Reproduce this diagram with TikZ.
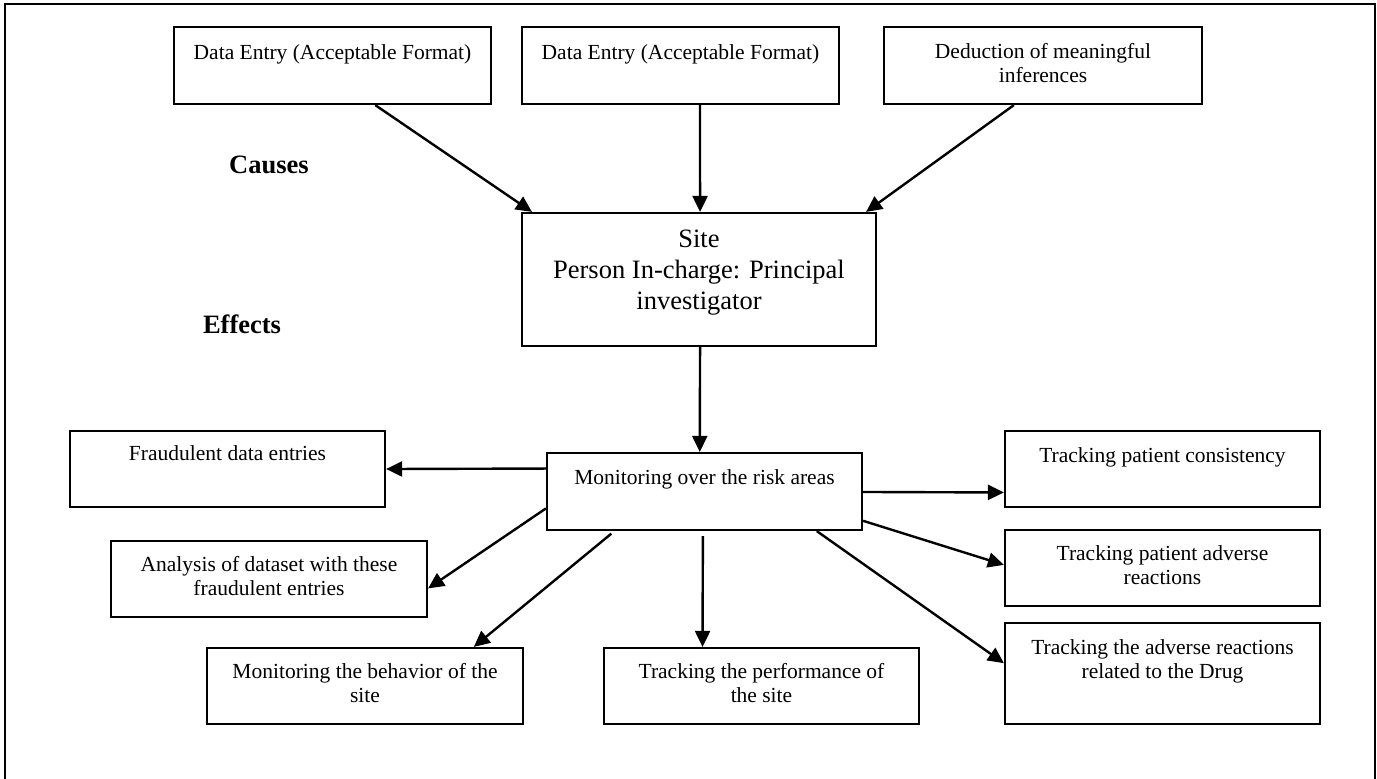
\documentclass[tikz,border=0pt]{standalone}
\usepackage{fontspec}
\setmainfont{Liberation Serif}
\usetikzlibrary{arrows.meta,calc,fit}
\begin{document}
\begin{tikzpicture}[x=0.5pt,y=-0.5pt,
  box/.style={draw,line width=1.1pt,inner sep=0pt},
  txt/.style={inner sep=0pt,align=center,anchor=base,font=\fontsize{10.75}{12}\selectfont},
  bigtxt/.style={inner sep=0pt,align=center,anchor=base,font=\fontsize{13.25}{15.5}\selectfont},
  head/.style={inner sep=0pt,anchor=base,font=\fontsize{13.25}{15.5}\selectfont\bfseries},
  arr/.style={line width=1.2pt,-{Triangle[length=8pt,width=7.5pt]}}]
\useasboundingbox (0,0) rectangle (1377,778);
\draw[line width=1.2pt] (5,790) -- (5,4) -- (1375,4) -- (1375,790);

% boxes
\node[box,fit={(174,27) (491,104)}] (A1) {};
\node[box,fit={(522,27) (839,104)}] (A2) {};
\node[box,fit={(884,27) (1202,104)}] (A3) {};
\node[box,fit={(522,213) (876,346)}] (Site) {};
\node[box,fit={(547,453) (862,530)}] (Mon) {};
\node[box,fit={(70,431) (385,507)}] (Fraud) {};
\node[box,fit={(111,541) (427,617)}] (Anal) {};
\node[box,fit={(207,648) (523,724)}] (Behav) {};
\node[box,fit={(604,648) (919,724)}] (Perf) {};
\node[box,fit={(1005,431) (1320,507)}] (Cons) {};
\node[box,fit={(1005,530) (1320,606)}] (Adv) {};
\node[box,fit={(1005,623) (1320,724)}] (Drug) {};

% texts (anchor = baseline of the last line)
\node[txt] (A1t) at ($(A1.north)+(0,34)$) {Data Entry (Acceptable Format)};
\node[txt] (A2t) at ($(A2.north)+(0,34)$) {Data Entry (Acceptable Format)};
\node[txt] (A3t) at ($(A3.north)+(0,57)$) {Deduction of meaningful\\inferences};
\node[bigtxt] (Sitet) at ($(Site.north)+(0,98)$) {Site\\Person In-charge: Principal\\investigator};
\node[txt] (Mont) at ($(Mon.north)+(0,33)$) {Monitoring over the risk areas};
\node[txt] (Fraudt) at ($(Fraud.north)+(0,31)$) {Fraudulent data entries};
\node[txt] (Analt) at ($(Anal.north)+(0,56)$) {Analysis of dataset with these\\fraudulent entries};
\node[txt] (Behavt) at ($(Behav.north)+(0,56)$) {Monitoring the behavior of the\\site};
\node[txt] (Perft) at ($(Perf.north)+(0,56)$) {Tracking the performance of\\the site};
\node[txt] (Const) at ($(Cons.north)+(0,33)$) {Tracking patient consistency};
\node[txt] (Advt) at ($(Adv.north)+(0,56)$) {Tracking patient adverse\\reactions};
\node[txt] (Drugt) at ($(Drug.north)+(0,57)$) {Tracking the adverse reactions\\related to the Drug};

\node[head] (causes) at (269,173) {Causes};
\node[head] (effects) at (242,333) {Effects};

% connectors
\draw[arr] ($(A1.south west)!0.634!(A1.south east)$) -- ($(Site.north west)!0.031!(Site.north east)$);
\draw[arr] ($(A2.south west)!0.561!(A2.south east)$) -- ($(Site.north west)!0.503!(Site.north east)$);
\draw[arr] ($(A3.south west)!0.409!(A3.south east)$) -- ($(Site.north west)!0.969!(Site.north east)$);
\draw[arr] ($(Site.south west)!0.503!(Site.south east)$) -- ($(Mon.north west)!0.485!(Mon.north east)$);
\draw[arr] ($(Mon.north west)!0.21!(Mon.south west)$) -- (Fraud.east);
\draw[arr] ($(Mon.north west)!0.714!(Mon.south west)$) -- ($(Anal.north east)!0.62!(Anal.south east)$);
\draw[arr,shorten <=2pt] ($(Mon.south west)!0.216!(Mon.south east)$) -- ($(Behav.north west)!0.842!(Behav.north east)$);
\draw[arr,shorten <=2.5pt] ($(Mon.south west)!0.495!(Mon.south east)$) -- ($(Perf.north west)!0.314!(Perf.north east)$);
\draw[arr] ($(Mon.north east)!0.506!(Mon.south east)$) -- ($(Cons.north west)!0.8!(Cons.south west)$);
\draw[arr] ($(Mon.north east)!0.87!(Mon.south east)$) -- ($(Adv.north west)!0.46!(Adv.south west)$);
\draw[arr] ($(Mon.south west)!0.854!(Mon.south east)$) -- ($(Drug.north west)!0.40!(Drug.south west)$);
\end{tikzpicture}
\end{document}
